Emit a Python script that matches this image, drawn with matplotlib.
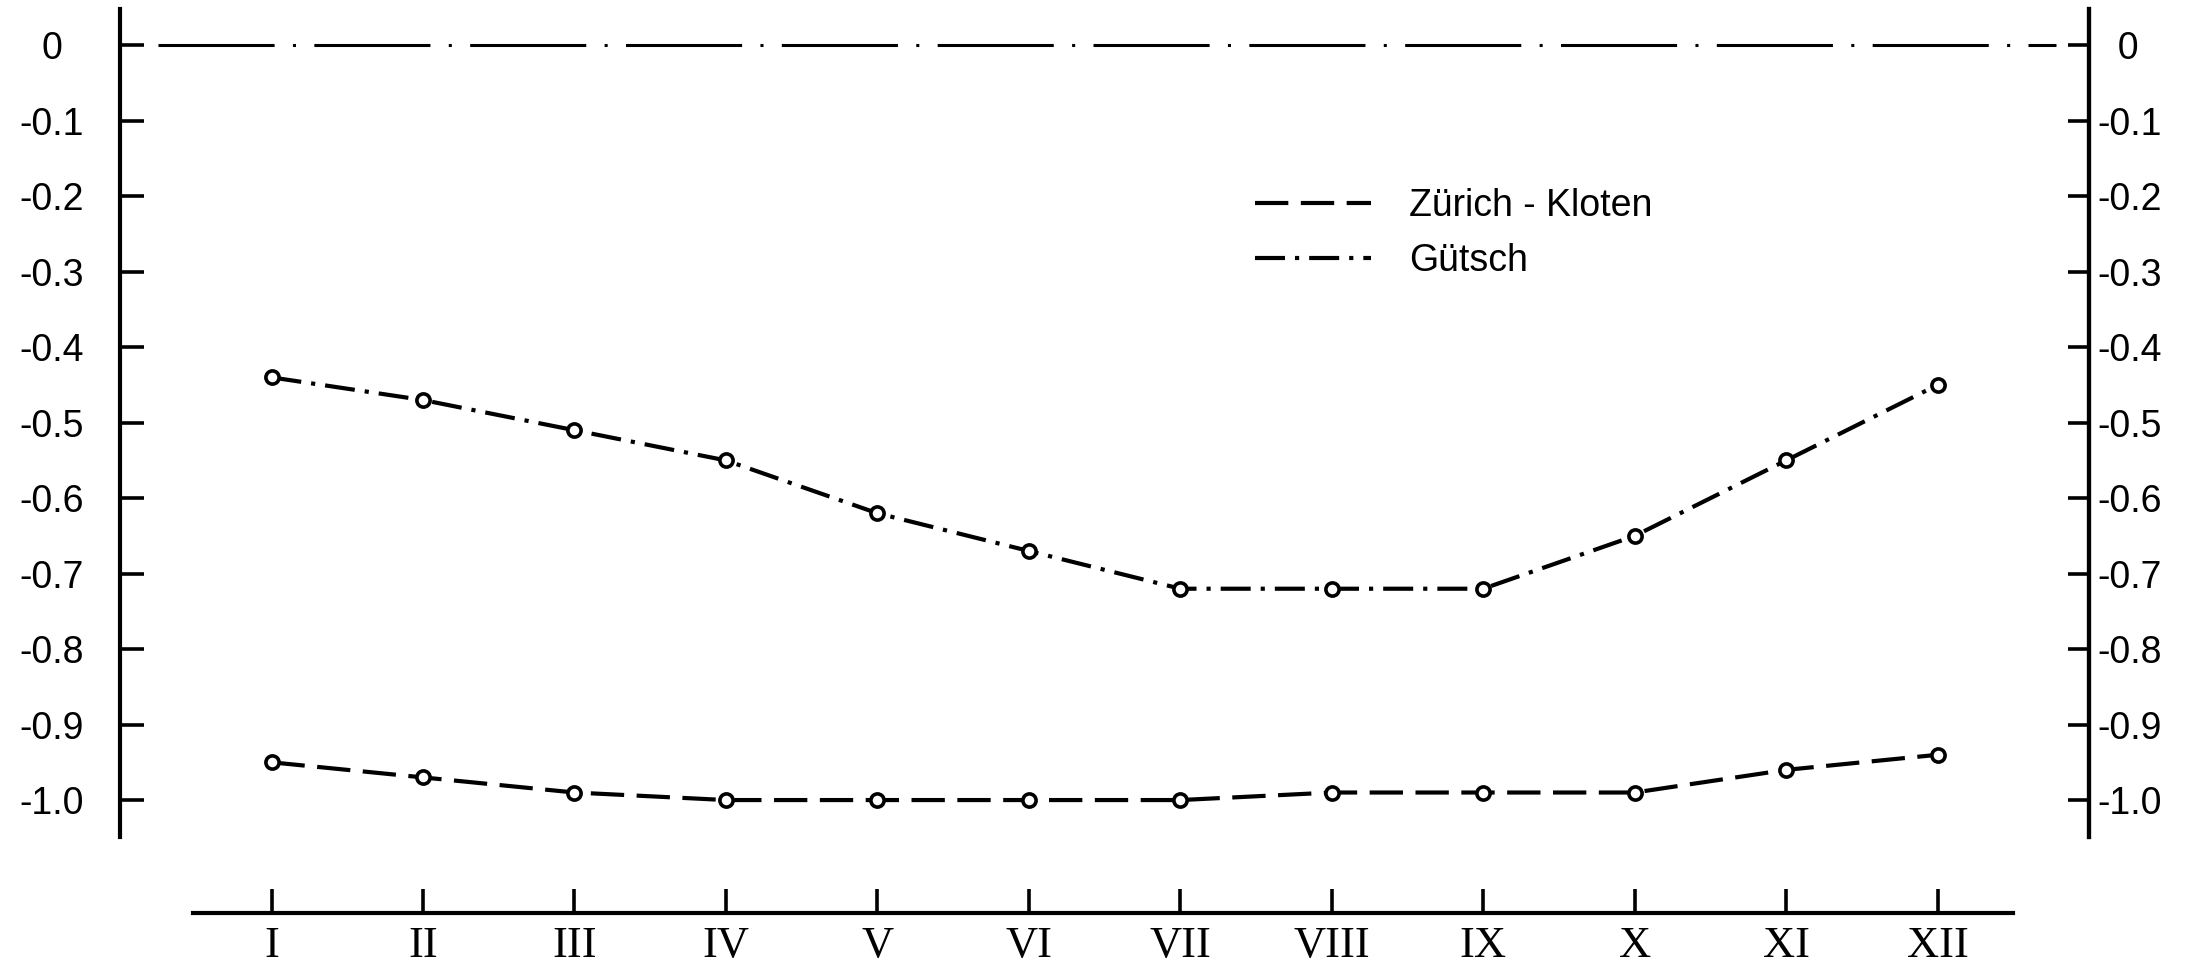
import matplotlib
matplotlib.use("Agg")
from matplotlib import pyplot as plt

# monthly values
months = ['I', 'II', 'III', 'IV', 'V', 'VI', 'VII', 'VIII', 'IX', 'X', 'XI', 'XII']
month_pos = list(range(1, 13))
kloten = [-0.95, -0.97, -0.99, -1.00, -1.00, -1.00, -1.00, -0.99, -0.99, -0.99, -0.96, -0.94]
guetsch = [-0.44, -0.47, -0.51, -0.55, -0.62, -0.67, -0.72, -0.72, -0.72, -0.65, -0.55, -0.45]
yticks = [0, -0.1, -0.2, -0.3, -0.4, -0.5, -0.6, -0.7, -0.8, -0.9, -1.0]
left_labels = ['0', '-0.1', '-0.2', '-0.3', '-0.4', '-0.5', '-0.6', '-0.7', '-0.8', '-0.9', '-1.0']
right_labels = ['  0', '-0.1', '-0.2', '-0.3', '-0.4', '-0.5', '-0.6', '-0.7', '-0.8', '-0.9', '-1.0']

fig = plt.figure(figsize=(21.91, 9.64), dpi=100)
ax = fig.add_axes([0.0548, 0.1317, 0.8987, 0.8589])
ax.set_xlim(0, 13)
ax.set_ylim(-1.049, 0.048)

# zero reference line
ax.axhline(0, xmin=0.0195, xmax=0.983, color='black', lw=2.2,
           linestyle=(0, (38, 6, 1, 6)))

ax.plot(month_pos, kloten, color='black', lw=3, linestyle=(0, (8, 3)),
        marker='o', ms=9.5, mew=2.6, mfc='white', mec='black', label='Zürich - Kloten')
ax.plot(month_pos, guetsch, color='black', lw=3, linestyle=(0, (7.2, 2.4, 1, 2.4)),
        marker='o', ms=9.5, mew=2.6, mfc='white', mec='black', label='Gütsch')

ax.spines['top'].set_visible(False)
for s in ['left', 'right', 'bottom']:
    ax.spines[s].set_linewidth(3)
ax.spines['bottom'].set_position(('outward', 55))
ax.spines['bottom'].set_bounds(0.48, 12.5)

ax.set_xticks(month_pos)
ax.set_xticklabels(months, fontfamily='Liberation Serif', fontsize=32)
ax.tick_params(axis='x', direction='in', length=17, width=2.6, pad=9)

ax.set_yticks(yticks)
ax.set_yticklabels(left_labels, fontfamily='Liberation Sans', fontsize=27, ha='center')
ax.tick_params(axis='y', direction='in', length=17, width=2.6, pad=49)

ax2 = ax.twinx()
ax2.set_ylim(ax.get_ylim())
for s in ['left', 'top', 'bottom']:
    ax2.spines[s].set_visible(False)
ax2.spines['right'].set_linewidth(3)
ax2.set_yticks(yticks)
ax2.set_yticklabels(right_labels, fontfamily='Liberation Sans', fontsize=27)
ax2.tick_params(axis='y', direction='in', length=15, width=2.6, pad=6)

leg = ax.legend(loc='upper left', bbox_to_anchor=(0.5728, 0.805),
                bbox_transform=fig.transFigure, frameon=False,
                prop={'family': 'Liberation Sans', 'size': 27},
                handlelength=3.1, handletextpad=1.0, labelspacing=0.5,
                borderpad=0, borderaxespad=0)
for h in leg.get_lines():
    h.set_marker('')

fig.savefig('out.png', dpi=100)
